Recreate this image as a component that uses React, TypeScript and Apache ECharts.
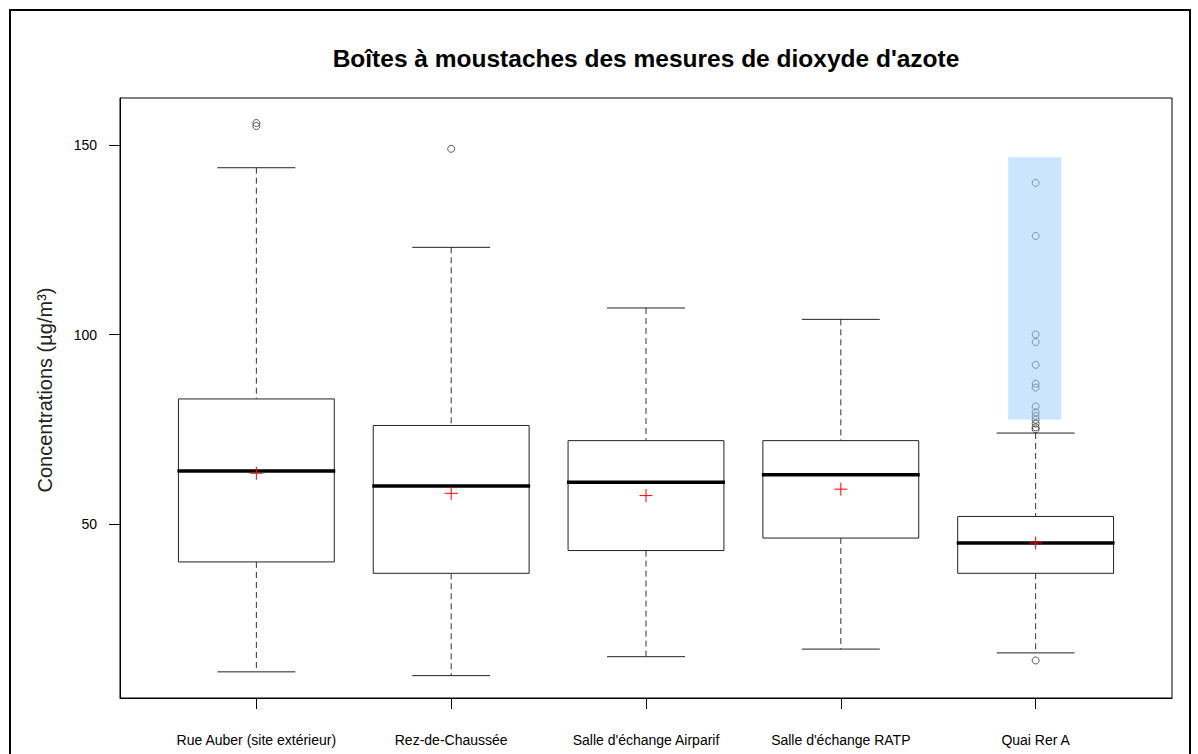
import React, { useEffect, useRef } from "react";
import * as echarts from "echarts";

const categories = [
  "Rue Auber (site extérieur)",
  "Rez-de-Chaussée",
  "Salle d'échange Airparif",
  "Salle d'échange RATP",
  "Quai Rer A",
];
const whiskerLow = [11, 10, 15, 17, 16];
const q1 = [40, 37, 43, 46.3, 37];
const medians = [64, 60, 61, 63, 45];
const q3 = [83, 76, 72, 72, 52];
const whiskerHigh = [144, 123, 107, 104, 74];
const means = [63.4, 58.1, 57.5, 59.2, 45];
const outliers: number[][] = [
  [155.8, 155],
  [149],
  [],
  [],
  [140, 126, 100, 98, 92, 87, 86, 81, 79.5, 78.5, 77.5, 76.5, 75.5, 75, 14],
];
const highlightCategory = 4;
const highlightRange = [77.6, 146.8];
const yTicks = [50, 100, 150];
const yMin = 4.1;
const yMax = 162.4;
const xPositions = [0, 1, 2, 3, 4];

const FONT = "'Liberation Sans', Arial, sans-serif";

export default function App() {
  const ref = useRef<HTMLDivElement>(null);
  useEffect(() => {
    if (!ref.current) return;
    const chart = echarts.init(ref.current, null, { renderer: "svg" });
    const boxData = categories.map((_, i) => [
      xPositions[i],
      whiskerLow[i],
      q1[i],
      medians[i],
      q3[i],
      whiskerHigh[i],
      means[i],
    ]);
    const outlierData: number[][] = [];
    outliers.forEach((arr, i) => arr.forEach((v) => outlierData.push([xPositions[i], v])));

    const dashed = { stroke: "#333", lineWidth: 1, lineDash: [6, 4] };
    const solid = { stroke: "#222", lineWidth: 1 };

    const option: any = {
      animation: false,
      backgroundColor: "#fff",
      grid: {
        left: 120,
        right: 26,
        top: 98,
        bottom: 56,
        show: true,
        borderColor: "#000",
        borderWidth: 1,
        backgroundColor: "transparent",
      },
      xAxis: {
        type: "value",
        min: -0.7,
        max: 4.7,
        axisLine: { show: true, onZero: false, lineStyle: { color: "#000", width: 1 } },
        axisTick: { show: true, length: 11, customValues: xPositions, lineStyle: { color: "#000" } },
        axisLabel: {
          fontSize: 14,
          color: "#000",
          fontFamily: FONT,
          margin: 35,
          customValues: xPositions,
          formatter: (v: number) => categories[Math.round(v)] ?? "",
        },
        splitLine: { show: false },
      },
      yAxis: {
        type: "value",
        min: yMin,
        max: yMax,
        axisLine: { show: true, onZero: false, lineStyle: { color: "#000", width: 1 } },
        axisTick: { show: true, length: 11, customValues: yTicks, lineStyle: { color: "#000" } },
        axisLabel: { fontSize: 14, color: "#000", fontFamily: FONT, margin: 23, customValues: yTicks },
        splitLine: { show: false },
      },
      graphic: [
        {
          type: "rect",
          shape: { x: 10, y: 10, width: 1180, height: 760 },
          style: { fill: "none", stroke: "#000", lineWidth: 2 },
          silent: true,
        },
        {
          type: "text",
          x: 646,
          y: 58,
          style: {
            text: "Boîtes à moustaches des mesures de dioxyde d'azote",
            fontSize: 24.5,
            fontWeight: "bold",
            fontFamily: FONT,
            fill: "#000",
            align: "center",
            verticalAlign: "middle",
          },
        },
        {
          type: "text",
          x: 45,
          y: 390,
          rotation: Math.PI / 2,
          style: {
            text: "Concentrations (µg/m³)",
            fontSize: 20,
            fontFamily: FONT,
            fill: "#222",
            align: "center",
            verticalAlign: "middle",
          },
        },
      ],
      series: [
        {
          type: "custom",
          name: "boxes",
          data: boxData,
          encode: { x: 0, y: [1, 2, 3, 4, 5] },
          z: 2,
          renderItem: (params: any, api: any) => {
            const idx = api.value(0);
            const band = api.size([1, 0])[0];
            const bw = band * 0.8;
            const cw = bw * 0.5;
            const cx = api.coord([idx, api.value(1)])[0];
            const yLow = api.coord([idx, api.value(1)])[1];
            const yQ1 = api.coord([idx, api.value(2)])[1];
            const yMed = api.coord([idx, api.value(3)])[1];
            const yQ3 = api.coord([idx, api.value(4)])[1];
            const yHigh = api.coord([idx, api.value(5)])[1];
            const yMean = api.coord([idx, api.value(6)])[1];
            const m = 6.5;
            return {
              type: "group",
              children: [
                { type: "line", shape: { x1: cx, y1: yHigh, x2: cx, y2: yQ3 }, style: dashed },
                { type: "line", shape: { x1: cx, y1: yQ1, x2: cx, y2: yLow }, style: dashed },
                { type: "line", shape: { x1: cx - cw / 2, y1: yHigh, x2: cx + cw / 2, y2: yHigh }, style: solid },
                { type: "line", shape: { x1: cx - cw / 2, y1: yLow, x2: cx + cw / 2, y2: yLow }, style: solid },
                {
                  type: "rect",
                  shape: { x: cx - bw / 2, y: yQ3, width: bw, height: yQ1 - yQ3 },
                  style: { fill: "#fff", stroke: "#222", lineWidth: 1 },
                },
                {
                  type: "line",
                  shape: { x1: cx - bw / 2 - 1, y1: yMed, x2: cx + bw / 2 + 1, y2: yMed },
                  style: { stroke: "#000", lineWidth: 3.5 },
                },
                { type: "line", shape: { x1: cx - m, y1: yMean, x2: cx + m, y2: yMean }, style: { stroke: "#ff0000", lineWidth: 1 } },
                { type: "line", shape: { x1: cx, y1: yMean - m, x2: cx, y2: yMean + m }, style: { stroke: "#ff0000", lineWidth: 1 } },
              ],
            };
          },
        },
        {
          type: "scatter",
          name: "outliers",
          data: outlierData,
          symbol: "circle",
          symbolSize: 7,
          z: 3,
          itemStyle: { color: "rgba(0,0,0,0)", borderColor: "#333", borderWidth: 1 },
        },
        {
          type: "custom",
          name: "highlight",
          data: [[xPositions[highlightCategory], highlightRange[0], highlightRange[1]]],
          encode: { x: 0, y: [1, 2] },
          z: 4,
          renderItem: (params: any, api: any) => {
            const idx = api.value(0);
            const band = api.size([1, 0])[0];
            const w = band * 0.272;
            const p0 = api.coord([idx, api.value(1)]);
            const p1 = api.coord([idx, api.value(2)]);
            return {
              type: "rect",
              shape: { x: p0[0] - w / 2 - 1, y: p1[1], width: w, height: p0[1] - p1[1] },
              style: { fill: "rgba(153,204,255,0.5)" },
            };
          },
        },
      ],
    };
    chart.setOption(option);
    return () => chart.dispose();
  }, []);
  return (
    <div
      ref={ref}
      style={{ position: "fixed", left: 0, top: 0, width: 1198, height: 754, background: "#fff" }}
    />
  );
}
